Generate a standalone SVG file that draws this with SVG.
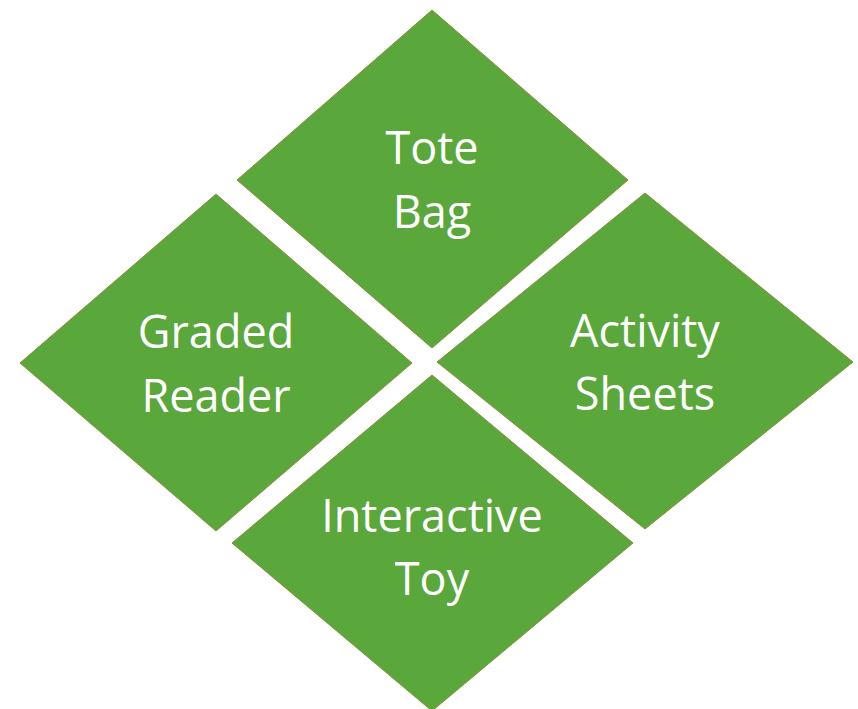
<svg xmlns="http://www.w3.org/2000/svg" width="858" height="709" viewBox="0 0 858 709">
<style>
.d{fill:#5aa73b;stroke:#8a8d3c;stroke-width:1}
.t{fill:#ffffff;font-family:"Open Sans","Noto Sans","Liberation Sans",sans-serif;font-size:45px;text-anchor:middle}
</style>
<rect width="858" height="709" fill="#ffffff"/>
<g id="connectors"></g>
<g id="tote-bag">
<polygon class="d" points="432,10 628,180 432,348 237,180"/>
<text class="t" x="432" y="164">Tote</text>
<text class="t" x="432" y="228">Bag</text>
</g>
<g id="graded-reader">
<polygon class="d" points="216,194 412,363 216,531 20,363"/>
<text class="t" x="216" y="348">Graded</text>
<text class="t" x="216" y="412">Reader</text>
</g>
<g id="activity-sheets">
<polygon class="d" points="645,193 853,362 645,529 437,362"/>
<text class="t" x="645" y="347">Activity</text>
<text class="t" x="645" y="410">Sheets</text>
</g>
<g id="interactive-toy">
<polygon class="d" points="432,375 633,543 432,711 232,543"/>
<text class="t" x="432" y="532">Interactive</text>
<text class="t" x="432" y="595">Toy</text>
</g>
</svg>
